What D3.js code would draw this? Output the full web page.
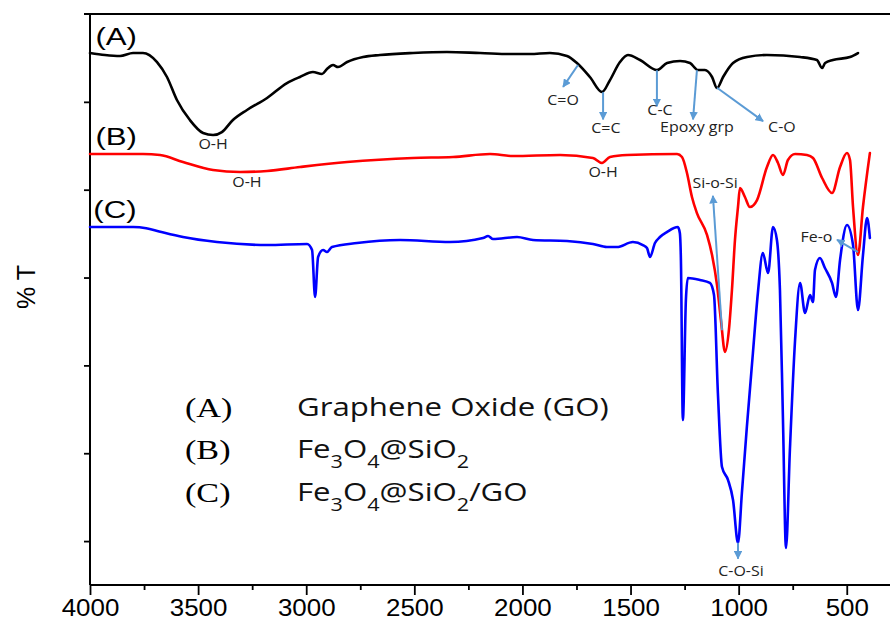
<!DOCTYPE html>
<html>
<head>
<meta charset="utf-8">
<script src="https://cdn.jsdelivr.net/npm/d3@7"></script>
<style>
  html, body { margin: 0; padding: 0; background: #fff; }
  svg { display: block; }
</style>
</head>
<body>
<svg id="chart" width="890" height="626"></svg>
<script>
// ---------- DATA (wavenumber cm-1, relative %T on an arbitrary offset scale) ----------
const seriesA_GO = [
  [4000,65.56],[3931,65.33],[3861,65.22],[3801,65.56],[3755,65.56],[3690,64.53],[3644,62.83],[3598,60.21],
  [3538,57.93],[3477,56.45],[3431,56.22],[3390,56.56],[3339,57.93],[3274,59.07],[3181,60.44],[3089,62.14],
  [3029,62.83],[2969,63.39],[2927,63.17],[2904,63.74],[2876,64.19],[2853,63.96],[2811,64.53],[2737,65.10],
  [2659,65.33],[2506,65.56],[2349,65.67],[2196,65.56],[2044,65.44],[1965,65.44],[1873,65.56],[1794,65.22],
  [1748,64.42],[1688,62.83],[1632,61.12],[1595,62.48],[1549,64.53],[1512,65.33],[1456,64.76],[1378,63.62],
  [1331,64.42],[1271,64.65],[1225,64.42],[1188,63.62],[1156,63.62],[1123,62.83],[1100,61.57],[1072,62.83],
  [1026,64.42],[961,65.10],[869,65.33],[716,65.10],[638,64.76],[614,63.85],[600,64.42],[564,64.76],
  [485,65.10],[448,65.56]
];
const seriesB_Fe3O4SiO2 = [
  [4000,54.06],[3755,54.06],[3676,53.95],[3570,53.15],[3431,52.24],[3306,52.01],[3181,52.13],[3029,52.58],
  [2811,53.15],[2506,53.61],[2321,53.72],[2150,54.06],[2044,53.83],[1826,53.95],[1674,53.61],[1632,53.04],
  [1595,53.72],[1516,53.95],[1285,54.06],[1262,53.72],[1239,51.90],[1216,49.17],[1193,47.34],[1146,44.84],
  [1123,42.56],[1100,39.15],[1082,35.16],[1063,31.52],[1045,34.03],[1031,38.58],[1017,44.27],[1003,48.03],
  [994,50.19],[971,49.17],[948,48.03],[915,48.82],[869,52.58],[841,53.95],[818,53.04],[795,51.67],
  [772,53.38],[739,54.06],[684,53.95],[656,53.61],[614,51.33],[568,49.62],[531,52.58],[499,54.17],
  [485,53.38],[471,48.03],[448,42.56],[425,48.03],[393,54.17]
];
const seriesC_Fe3O4SiO2GO = [
  [4000,45.75],[3800,45.75],[3740,45.62],[3680,45.25],[3570,44.61],[3413,44.04],[3181,43.70],[2996,43.82],[2973,43.13],
  [2959,37.78],[2945,42.34],[2922,43.13],[2904,42.91],[2881,43.47],[2765,43.93],[2566,44.27],[2335,44.04],
  [2182,44.50],[2159,44.73],[2136,44.38],[2025,44.61],[1951,44.27],[1794,44.16],[1674,43.82],[1609,43.47],
  [1563,43.47],[1489,44.04],[1443,43.70],[1424,43.36],[1410,42.34],[1387,43.93],[1364,44.61],[1332,45.18],
  [1281,45.75],[1272,45.07],[1267,42.00],[1258,23.78],[1244,37.44],[1235,39.95],[1179,39.72],[1133,39.38],
  [1114,38.01],[1096,26.86],[1077,18.43],[1049,16.95],[1026,14.68],[1003,9.78],[985,15.47],[962,22.99],
  [934,31.41],[911,38.24],[888,42.79],[864,40.51],[841,45.75],[823,44.27],[809,38.58],[795,23.78],
  [781,9.21],[763,20.37],[739,32.89],[716,39.38],[693,35.96],[670,38.01],[656,37.21],[647,40.86],
  [624,42.22],[601,41.08],[568,39.38],[550,37.78],[531,42.00],[499,45.98],[471,43.70],[448,36.30],
  [425,42.56],[406,46.78],[393,44.50]
];
const xMajorTicks = [4000,3500,3000,2500,2000,1500,1000,500];
const xMinorTicks = [3750,3250,2750,2250,1750,1250,750];
const yTicks = [10,20,30,40,50,60];
const curveLabels = [
  {text:"(A)", x:3975, y:67.4},
  {text:"(B)", x:3975, y:56.0},
  {text:"(C)", x:3985, y:47.7}
];
// peak assignments: text position, optional arrow [from, to] in data units
const peakNotes = [
  {text:"O-H",    tx:3431, ty:55.2},
  {text:"O-H",    tx:3274, ty:50.9},
  {text:"O-H",    tx:1627, ty:52.0},
  {text:"C=O",    tx:1812, ty:60.2, a:[1743,64.19,1812,61.7]},
  {text:"C=C",    tx:1614, ty:57.0, a:[1627,61.1,1627,58.0]},
  {text:"C-C",    tx:1364, ty:59.1, a:[1378,63.6,1378,59.5]},
  {text:"Epoxy grp", tx:1193, ty:57.1, a:[1193,63.6,1211,58.0]},
  {text:"C-O",    tx:800,  ty:57.1, a:[1100,61.6,887,57.8]},
  {text:"Si-o-Si",tx:1109, ty:50.8, a:[1077,34.0,1119,49.3]},
  {text:"Fe-o",   tx:640,  ty:44.6, a:[448,42.9,545,44.3]},
  {text:"C-O-Si", tx:989,  ty:6.6,  a:[1003,9.8,1003,8.0]}
];
const legendKeys = ["(A)","(B)","(C)"];
const legendNames = [
  [["Graphene Oxide (GO)",""]],
  [["Fe",""],["3","sub"],["O",""],["4","sub"],["@SiO",""],["2","sub"]],
  [["Fe",""],["3","sub"],["O",""],["4","sub"],["@SiO",""],["2","sub"],["/GO",""]]
];
const seriesColors = ["#000000","#ff0000","#0000ff"];

// ---------- CHART ----------
const svg = d3.select("#chart");
const x = d3.scaleLinear().domain([4000, 300]).range([90, 890]);
const y = d3.scaleLinear().domain([5, 70]).range([585, 14]);
const noteColor = "#5b9bd5";

svg.append("defs").append("marker")
  .attr("id","arr").attr("viewBox","0 0 10 10").attr("refX",9).attr("refY",5)
  .attr("markerWidth",4.2).attr("markerHeight",4.2).attr("markerUnits","strokeWidth")
  .attr("orient","auto")
  .append("path").attr("d","M0,0 L10,5 L0,10 z").attr("fill",noteColor);

// frame: top line
svg.append("line").attr("x1",84).attr("x2",890).attr("y1",y(70)).attr("y2",y(70))
  .attr("stroke","#000").attr("stroke-width",2);

// y axis
const yAxis = svg.append("g").attr("transform",`translate(${x(4000)},0)`)
  .call(d3.axisLeft(y).tickValues(yTicks).tickSize(6).tickFormat(""));
yAxis.select(".domain").attr("d",`M0,${y(70)}V${y(5)}`).attr("stroke-width",2);
yAxis.selectAll(".tick line").attr("stroke-width",1.8);

// x axis
const xAxisMinor = svg.append("g").attr("transform",`translate(0,${y(5)})`)
  .call(d3.axisBottom(x).tickValues(xMinorTicks).tickSize(5).tickFormat(""));
xAxisMinor.select(".domain").remove();
xAxisMinor.selectAll(".tick line").attr("stroke-width",1.8);
const xAxis = svg.append("g").attr("transform",`translate(0,${y(5)})`)
  .call(d3.axisBottom(x).tickValues(xMajorTicks).tickSize(10).tickPadding(8).tickFormat(d3.format("d")));
xAxis.select(".domain").attr("d",`M${x(4000)},0H890`).attr("stroke-width",2);
xAxis.selectAll(".tick line").attr("stroke-width",1.8);
xAxis.selectAll(".tick text")
  .attr("font-family","'Liberation Sans', Arial, sans-serif").attr("font-size",24)
  .attr("fill","#000").attr("y",14).attr("dy","0.71em")
  .attr("transform","scale(1.08,1)");

// y label
svg.append("text").attr("transform","translate(35,287) rotate(-90)")
  .attr("text-anchor","middle")
  .attr("font-family","'Liberation Sans', Arial, sans-serif").attr("font-size",25)
  .text("% T");

// spectra
const line = d3.line().x(d => x(d[0])).y(d => y(d[1])).curve(d3.curveMonotoneX);
[seriesA_GO, seriesB_Fe3O4SiO2, seriesC_Fe3O4SiO2GO].forEach((s,i) => {
  svg.append("path").datum(s).attr("d",line)
    .attr("fill","none").attr("stroke",seriesColors[i]).attr("stroke-width",2.6)
    .attr("stroke-linejoin","round").attr("stroke-linecap","round");
});

// curve labels
svg.selectAll("text.clab").data(curveLabels).join("text").attr("class","clab")
  .attr("transform",d=>`translate(${x(d.x)},${y(d.y)}) scale(1.3,1)`).attr("dy","0.35em")
  .attr("font-family","'Liberation Sans', Arial, sans-serif").attr("font-size",24)
  .text(d=>d.text);

// peak notes
peakNotes.forEach(n => {
  if (n.a) {
    svg.append("line")
      .attr("x1",x(n.a[0])).attr("y1",y(n.a[1])).attr("x2",x(n.a[2])).attr("y2",y(n.a[3]))
      .attr("stroke",noteColor).attr("stroke-width",2).attr("marker-end","url(#arr)");
  }
  svg.append("text").attr("transform",`translate(${x(n.tx)},${y(n.ty)}) scale(1.1,1)`).attr("dy","0.35em")
    .attr("text-anchor","middle")
    .attr("font-family","'Open Sans', sans-serif").attr("font-size",14.5).attr("fill","#222")
    .text(n.text);
});

// legend
const legY = [407, 449, 492];
legendKeys.forEach((k,i) => {
  svg.append("text").attr("transform",`translate(185,${legY[i]}) scale(1.22,1)`).attr("dy","0.35em")
    .attr("font-family","'Liberation Serif', 'Times New Roman', serif").attr("font-size",28)
    .text(k);
  const t = svg.append("text").attr("transform",`translate(297,${legY[i]}) scale(1.2,1)`).attr("dy","0.35em")
    .attr("font-family","'Open Sans', sans-serif").attr("font-size",26).attr("fill","#111");
  let shifted = false;
  legendNames[i].forEach(([s,kind]) => {
    const ts = t.append("tspan").text(s);
    if (kind === "sub") { ts.attr("dy", shifted ? 0 : 10).attr("font-size",18); shifted = true; }
    else { if (shifted) ts.attr("dy",-10); shifted = false; }
  });
});
</script>
</body>
</html>
